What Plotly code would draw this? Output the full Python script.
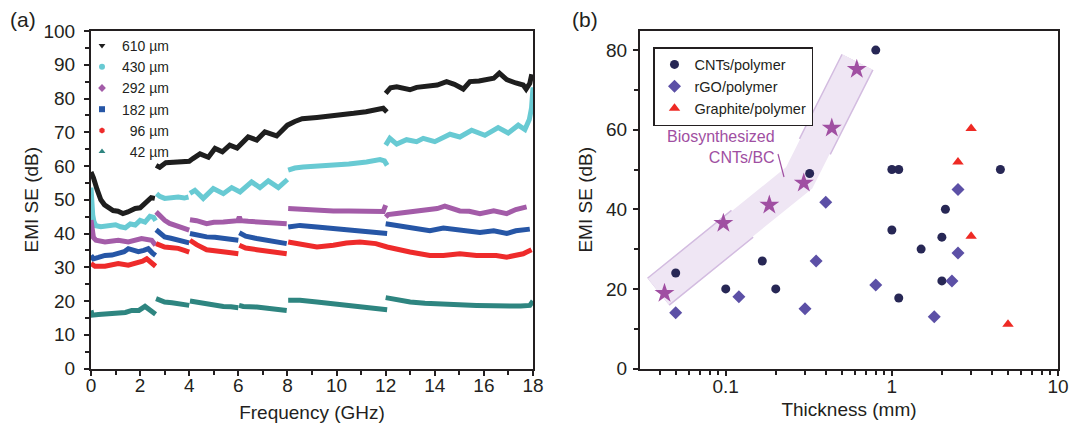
import plotly.graph_objects as go

# ---------------- Panel (a) data: EMI SE vs frequency (segments per band) ----------------
f610 = [[0, 0.1, 0.25, 0.4, 0.55, 0.7, 0.9, 1.1, 1.3, 1.5, 1.65, 1.8, 2.0, 2.15, 2.3, 2.45, 2.6],
        [2.65, 2.8, 3.05, 3.4, 3.7, 4.0, 4.15, 4.44, 4.78, 5.05, 5.35, 5.65, 5.95, 6.4, 6.75, 7.08, 7.56, 7.8,
         8.0, 8.3, 8.6, 9.2, 9.9, 10.7, 11.2, 11.9, 12.05],
        [12.0, 12.2, 12.45, 12.99, 13.26, 13.67, 14.1, 14.48, 14.8, 15.16, 15.43, 15.8, 16.11, 16.4, 16.63,
         16.93, 17.3, 17.6, 17.72, 17.87, 17.95]]
se610 = [[58.2, 56.5, 53.0, 50.0, 48.5, 47.6, 46.8, 46.6, 45.9, 46.4, 47.1, 47.4, 47.6, 48.6, 49.9, 50.6, 50.4],
         [60.2, 59.6, 61.0, 61.1, 61.5, 61.4, 62.2, 63.6, 62.6, 65.2, 64.2, 66.2, 65.3, 68.6, 67.7, 70.1, 68.9, 70.6,
          72.1, 73.2, 74.0, 74.4, 74.8, 75.6, 76.1, 77.1, 76.0],
         [81.5, 83.2, 83.5, 82.6, 83.3, 83.7, 84.0, 85.0, 84.2, 82.8, 85.0, 85.2, 85.5, 86.0, 87.5,
          85.6, 84.6, 84.0, 82.8, 84.5, 87.2]]

f430 = [[0, 0.03, 0.07, 0.12, 0.2, 0.4, 0.6, 0.8, 1.0, 1.2, 1.4, 1.6, 1.8, 2.0, 2.2, 2.4, 2.55, 2.63],
        [2.67, 2.8, 3.0, 3.3, 3.55, 3.8, 3.97],
        [4.03, 4.23, 4.57, 4.98, 5.39, 5.73, 6.07, 6.54, 6.88, 7.22, 7.63, 8.0],
        [8.03, 8.3, 8.64, 9.2, 9.87, 10.5, 11.22, 11.77, 11.95, 12.06],
        [12.0, 12.17, 12.45, 12.85, 13.26, 13.53, 14.0, 14.62, 15.02, 15.5, 16.04, 16.58, 16.99, 17.4,
         17.67, 17.85, 17.9, 17.94, 18.0]]
se430 = [[53.6, 49.0, 45.5, 43.5, 42.3, 42.0, 42.2, 42.4, 42.6, 42.0, 41.7, 42.8, 42.5, 43.9, 43.4, 45.1, 44.8, 43.8],
         [51.8, 51.0, 50.4, 50.8, 50.8, 50.5, 50.8],
         [51.9, 52.8, 50.4, 53.3, 51.8, 53.6, 52.3, 55.3, 53.6, 55.6, 53.6, 56.0],
         [58.8, 59.4, 59.7, 59.9, 60.2, 60.6, 61.2, 61.9, 61.5, 60.2],
         [66.2, 68.2, 66.5, 67.8, 67.2, 68.2, 67.2, 69.4, 68.6, 70.6, 69.1, 71.4, 69.8, 72.1,
          70.8, 73.8, 75.6, 77.2, 83.3]]

f292 = [[0, 0.04, 0.1, 0.2, 0.57, 1.11, 1.52, 2.06, 2.3, 2.47, 2.63],
        [2.65, 2.8, 3.0, 3.2, 3.42, 3.6, 3.83, 4.0],
        [4.03, 4.3, 4.71, 5.0, 5.39, 5.7, 5.98, 6.04, 6.1, 6.4, 6.75, 7.3, 7.97],
        [8.03, 8.64, 9.2, 9.87, 10.5, 11.2, 11.9, 12.0],
        [12.0, 12.1, 12.45, 13.0, 13.67, 14.1, 14.41, 14.8, 15.02, 15.4, 15.84, 16.4, 16.93, 17.3, 17.74]]
se292 = [[44.0, 40.0, 38.8, 38.0, 37.5, 38.0, 37.5, 38.5, 38.0, 38.0, 36.5],
         [46.4, 45.2, 43.9, 43.0, 42.4, 41.9, 41.5, 41.0],
         [44.1, 43.8, 42.9, 43.3, 43.4, 43.6, 43.8, 44.9, 43.8, 43.6, 43.4, 43.1, 42.9],
         [47.4, 47.1, 46.9, 46.7, 46.7, 46.7, 46.5, 48.4],
         [44.9, 45.6, 45.9, 46.4, 46.7, 47.4, 48.1, 47.3, 46.7, 46.6, 45.9, 46.7, 45.9, 47.1, 47.9]]

f182 = [[0, 0.1, 0.3, 0.57, 0.85, 1.11, 1.35, 1.52, 1.7, 1.93, 2.15, 2.33, 2.5, 2.63],
        [2.65, 2.8, 3.0, 3.25, 3.5, 3.75, 4.0],
        [4.03, 4.3, 4.71, 5.05, 5.39, 5.7, 6.0],
        [6.04, 6.3, 6.75, 7.2, 7.6, 7.97],
        [8.03, 8.51, 9.2, 9.87, 10.5, 11.2, 11.7, 12.06],
        [12.0, 12.6, 13.0, 13.4, 13.8, 14.35, 15.02, 15.5, 15.84, 16.4, 16.93, 17.3, 17.87]]
se182 = [[33.5, 32.5, 32.9, 33.5, 33.6, 34.0, 34.6, 35.5, 35.0, 34.6, 35.0, 35.5, 34.2, 33.5],
         [41.1, 40.0, 39.0, 38.6, 38.2, 37.6, 37.2],
         [40.0, 39.5, 39.0, 38.9, 38.5, 38.3, 38.0],
         [40.2, 39.2, 38.5, 37.9, 37.5, 37.0],
         [41.9, 42.4, 41.9, 41.5, 41.2, 40.8, 40.5, 40.0],
         [42.9, 42.2, 41.9, 41.6, 40.8, 41.6, 41.0, 40.8, 40.3, 40.8, 40.0, 40.8, 41.3]]

f96 = [[0, 0.16, 0.57, 0.85, 1.11, 1.52, 1.93, 2.1, 2.27, 2.47, 2.63],
       [2.65, 2.8, 3.0, 3.3, 3.55, 3.8, 4.0],
       [4.03, 4.3, 4.71, 5.05, 5.39, 5.7, 6.0],
       [6.04, 6.3, 6.75, 7.2, 7.6, 7.97],
       [8.03, 8.51, 9.2, 9.87, 10.4, 10.95, 11.6, 12.06, 12.6, 12.99, 13.8, 14.35, 15.02, 15.7, 16.5,
        16.93, 17.6, 17.94]]
se96 = [[31.1, 30.3, 30.3, 30.8, 31.1, 30.6, 31.3, 31.8, 32.5, 31.5, 30.3],
        [37.0, 36.4, 36.0, 35.8, 35.6, 35.0, 34.5],
        [38.0, 36.7, 35.2, 35.0, 34.5, 34.3, 34.0],
        [36.5, 35.7, 35.2, 34.8, 34.4, 34.0],
        [37.5, 37.0, 36.0, 36.5, 37.2, 37.5, 37.0, 36.0, 35.0, 34.5, 33.5, 33.5, 34.0, 33.5, 33.5,
         33.0, 34.0, 35.2]]

f42 = [[0, 0.05, 0.3, 0.57, 0.85, 1.11, 1.4, 1.66, 1.95, 2.2, 2.35, 2.47, 2.63],
       [2.65, 2.8, 3.0, 3.3, 3.55, 3.8, 4.0],
       [4.03, 4.2, 4.57, 5.0, 5.39, 5.7, 6.0],
       [6.03, 6.2, 6.75, 7.3, 7.97],
       [8.03, 8.51, 9.2, 9.87, 10.5, 11.2, 11.7, 12.06],
       [12.0, 12.6, 13.0, 13.6, 14.35, 15.0, 15.7, 16.4, 17.0, 17.5, 17.87, 18.0]]
se42 = [[17.2, 15.8, 16.0, 16.2, 16.5, 16.7, 16.6, 17.2, 17.2, 18.4, 17.6, 17.0, 16.1],
        [20.7, 20.2, 19.7, 19.5, 19.2, 19.0, 18.7],
        [20.0, 19.8, 19.0, 18.6, 18.4, 18.3, 18.0],
        [18.7, 18.4, 18.2, 17.7, 17.2],
        [20.2, 20.2, 19.7, 19.2, 18.8, 18.2, 17.9, 17.4],
        [21.0, 20.2, 19.7, 19.3, 19.0, 18.9, 18.7, 18.6, 18.4, 18.5, 18.7, 20.0]]

labels_a = ["610 µm", "430 µm", "292 µm", "182 µm", "\u200796 µm", "\u200742 µm"]

# ---------------- Panel (b) data: EMI SE vs thickness ----------------
cnt_t = [0.05, 0.1, 0.166, 0.2, 0.32, 0.8, 1.0, 1.1, 1.0, 1.1, 1.5, 2.0, 2.1, 2.0, 4.5]
cnt_se = [24, 20, 27, 20, 49, 80, 50, 50, 34.8, 17.7, 30, 33, 40, 22, 50]
rgo_t = [0.05, 0.12, 0.3, 0.35, 0.4, 0.8, 1.8, 2.3, 2.5, 2.5]
rgo_se = [14, 18, 15, 27, 41.8, 21, 13, 22, 45, 29]
gra_t = [2.5, 3.0, 3.0, 5.0]
gra_se = [51.9, 60.3, 33.2, 11.1]
bc_t = [0.0428, 0.0968, 0.183, 0.295, 0.435, 0.615]
bc_se = [18.9, 36.5, 41.1, 46.6, 60.4, 75.2]
labels_b = ["CNTs/polymer", "rGO/polymer", "Graphite/polymer"]

# highlighted region (centre line of the shaded band)
band_t = [0.0393, 0.2765, 0.621]
band_se = [19.3, 47.9, 77.0]

FONT = "Liberation Sans, Arial, sans-serif"
TXT = "#231f20"
W, H = 1069, 423


def join(segs):
    out = []
    for i, s in enumerate(segs):
        if i:
            out.append(None)
        out.extend(s)
    return out


fig = go.Figure()

colors_a = ["#1e1e1e", "#68cad3", "#a35ca8", "#2656a6", "#ee2b2b", "#2e8580"]
symbols_a = ["triangle-down", "circle", "diamond", "square", "hexagon", "triangle-up"]
series_a = [(f610, se610), (f430, se430), (f292, se292), (f182, se182), (f96, se96), (f42, se42)]

for (fx, fy), c in zip(series_a, colors_a):
    fig.add_trace(go.Scatter(x=join(fx), y=join(fy), mode="lines",
                             line=dict(color=c, width=5), connectgaps=False,
                             showlegend=False, xaxis="x", yaxis="y", hoverinfo="skip"))
for lab, c, s in zip(labels_a, colors_a, symbols_a):
    fig.add_trace(go.Scatter(x=[None], y=[None], mode="markers", name=lab,
                             marker=dict(color=c, symbol=s, size=6),
                             legend="legend", xaxis="x", yaxis="y"))

# panel b band
fig.add_trace(go.Scatter(x=band_t, y=band_se, mode="lines",
                         line=dict(color="#d3bce0", width=36, dash="dash"),
                         showlegend=False, xaxis="x2", yaxis="y2", hoverinfo="skip"))
fig.add_trace(go.Scatter(x=band_t, y=band_se, mode="lines",
                         line=dict(color="#efe6f4", width=33),
                         showlegend=False, xaxis="x2", yaxis="y2", hoverinfo="skip"))

fig.add_trace(go.Scatter(x=cnt_t, y=cnt_se, mode="markers", name=labels_b[0],
                         marker=dict(color="#272755", symbol="circle", size=9),
                         legend="legend2", xaxis="x2", yaxis="y2"))
fig.add_trace(go.Scatter(x=rgo_t, y=rgo_se, mode="markers", name=labels_b[1],
                         marker=dict(color="#5c50a6", symbol="diamond", size=10),
                         legend="legend2", xaxis="x2", yaxis="y2"))
fig.add_trace(go.Scatter(x=gra_t, y=gra_se, mode="markers", name=labels_b[2],
                         marker=dict(color="#ee2a24", symbol="triangle-up", size=10),
                         legend="legend2", xaxis="x2", yaxis="y2"))
fig.add_trace(go.Scatter(x=bc_t, y=bc_se, mode="markers", showlegend=False,
                         marker=dict(color="#a04fa2", symbol="star", size=15),
                         xaxis="x2", yaxis="y2"))

axis_common = dict(showline=True, linecolor=TXT, linewidth=2, mirror=True, showgrid=False,
                   zeroline=False, ticks="outside", tickcolor=TXT, tickwidth=1.5, ticklen=5,
                   automargin=False,
                   tickfont=dict(family=FONT, size=19, color=TXT))
minor_common = dict(ticks="outside", ticklen=4, tickcolor=TXT, tickwidth=1.5, showgrid=False)
title_font = dict(family=FONT, size=19, color=TXT)
ydom = [1 - 368.5 / H, 1 - 31 / H]

fig.update_layout(
    template="plotly_white",
    width=W, height=H, margin=dict(l=0, r=0, t=0, b=0),
    paper_bgcolor="white", plot_bgcolor="white",
    font=dict(family=FONT, color=TXT),
    xaxis=dict(domain=[91 / W, 533 / W], range=[0, 18], dtick=2, tick0=0,
               minor=dict(dtick=1, **minor_common), ticklabelstandoff=-6,
               title=dict(text="Frequency (GHz)", font=title_font, standoff=10),
               anchor="y", **axis_common),
    yaxis=dict(domain=ydom, range=[0, 100], dtick=10, tick0=0,
               minor=dict(dtick=5, **minor_common), ticklabelstandoff=5,
               title=dict(text="EMI SE (dB)", font=title_font, standoff=0),
               anchor="x", **axis_common),
    xaxis2=dict(domain=[640 / W, 1058 / W], type="log", range=[-1.516, 1], dtick=1,
                minor=dict(dtick="D1", **minor_common), ticklabelstandoff=-5,
                title=dict(text="Thickness (mm)", font=title_font, standoff=6),
                anchor="y2", **axis_common),
    yaxis2=dict(domain=ydom, range=[0, 84.8], dtick=20, tick0=0,
                minor=dict(dtick=10, **minor_common), ticklabelstandoff=2,
                title=dict(text="EMI SE (dB)", font=title_font, standoff=8),
                anchor="x2", **axis_common),
    legend=dict(x=82 / W, y=1 - 30 / H, xanchor="left", yanchor="top", bgcolor="rgba(0,0,0,0)",
                borderwidth=0, font=dict(family=FONT, size=14, color=TXT), tracegroupgap=0),
    legend2=dict(x=653 / W, y=1 - 47 / H, xanchor="left", yanchor="top", bgcolor="white",
                 bordercolor=TXT, borderwidth=1.5, font=dict(family=FONT, size=14.5, color=TXT)),
    annotations=[
        dict(text="(a)", x=8 / W, y=1 - 20 / H, xref="paper", yref="paper", xanchor="left",
             yanchor="middle", showarrow=False, font=dict(family=FONT, size=21, color=TXT)),
        dict(text="(b)", x=570 / W, y=1 - 20 / H, xref="paper", yref="paper", xanchor="left",
             yanchor="middle", showarrow=False, font=dict(family=FONT, size=21, color=TXT)),
        dict(text="Biosynthesized<br>CNTs/BC", x=777 / W, y=1 - 126 / H, xref="paper", yref="paper",
             xanchor="right", yanchor="top", align="right", showarrow=False,
             font=dict(family=FONT, size=16, color="#a04fa2")),
    ],
    shapes=[dict(type="line", xref="paper", yref="paper", x0=778 / W, y0=1 - 154 / H,
                 x1=784 / W, y1=1 - 177 / H, line=dict(color="#a04fa2", width=1.2))],
)

fig.write_html("out.html", config={"displayModeBar": False},
               post_script="document.body.style.margin='0px';")
